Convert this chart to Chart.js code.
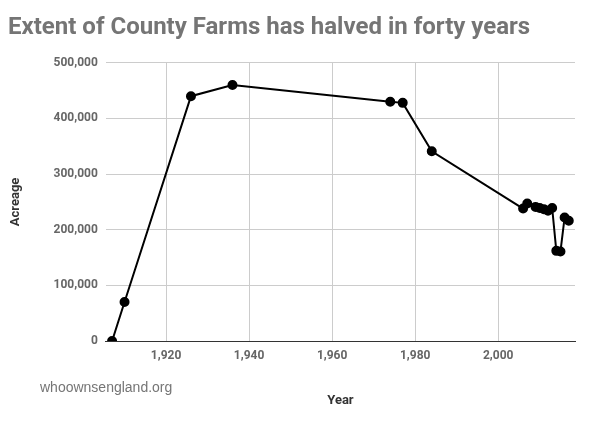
<!DOCTYPE html>
<html lang="en">
<head>
  <meta charset="UTF-8">
  <script src="https://cdn.jsdelivr.net/npm/chart.js"></script>
  <style>
    body { margin: 0; background: #fff; }
    .wrap { position: relative; width: 589px; height: 423px; }
    .src { position: absolute; left: 40px; top: 379px; font: 14px "Liberation Sans", Arial, sans-serif; color: #757575; }
  </style>
</head>
<body>
  <div class="wrap">
    <canvas id="chart" width="589" height="423"></canvas>
    <div class="src">whoownsengland.org</div>
  </div>
  <script>
    const years = [1907, 1910, 1926, 1936, 1974, 1977, 1984, 2006, 2007, 2009, 2010, 2011, 2012, 2013, 2014, 2015, 2016, 2017];
    const acreage = [0, 70000, 440000, 460000, 430000, 428000, 341000, 238000, 247000, 241000, 239000, 237000, 234000, 239000, 162000, 161000, 222000, 216000];

    new Chart(document.getElementById('chart'), {
      type: 'scatter',
      data: {
        datasets: [{
          data: years.map((y, i) => ({ x: y, y: acreage[i] })),
          showLine: true,
          borderColor: '#000',
          backgroundColor: '#000',
          borderWidth: 2,
          pointRadius: 4,
          tension: 0
        }]
      },
      options: {
        responsive: false,
        animation: false,
        layout: { padding: { left: 8, right: 14, bottom: 14 } },
        plugins: {
          legend: { display: false },
          title: {
            display: true, text: 'Extent of County Farms has halved in forty years',
            align: 'start', color: '#757575',
            font: { family: 'Roboto', size: 24, weight: 'bold' },
            padding: { top: 14, bottom: 20 }
          }
        },
        scales: {
          x: {
            type: 'linear', min: 1905.5, max: 2018.5,
            afterBuildTicks: a => { a.ticks = [1920, 1940, 1960, 1980, 2000].map(v => ({ value: v })); },
            ticks: { color: '#666', padding: 8, font: { family: 'Roboto', size: 12, weight: 'bold' } },
            grid: { color: '#ccc', drawTicks: false },
            border: { color: '#333' },
            title: { display: true, text: 'Year', color: '#333', padding: { top: 22, bottom: 0 }, font: { family: 'Roboto', size: 13, weight: 'bold' } }
          },
          y: {
            min: 0, max: 500000,
            ticks: { stepSize: 100000, color: '#666', padding: 8, font: { family: 'Roboto', size: 12, weight: 'bold' },
              callback: v => v.toLocaleString('en-US') },
            grid: { color: '#ccc', drawTicks: false },
            border: { display: false },
            title: { display: true, text: 'Acreage', color: '#333', padding: { top: 0, bottom: 22 }, font: { family: 'Roboto', size: 13, weight: 'bold' } }
          }
        }
      }
    });
  </script>
</body>
</html>
